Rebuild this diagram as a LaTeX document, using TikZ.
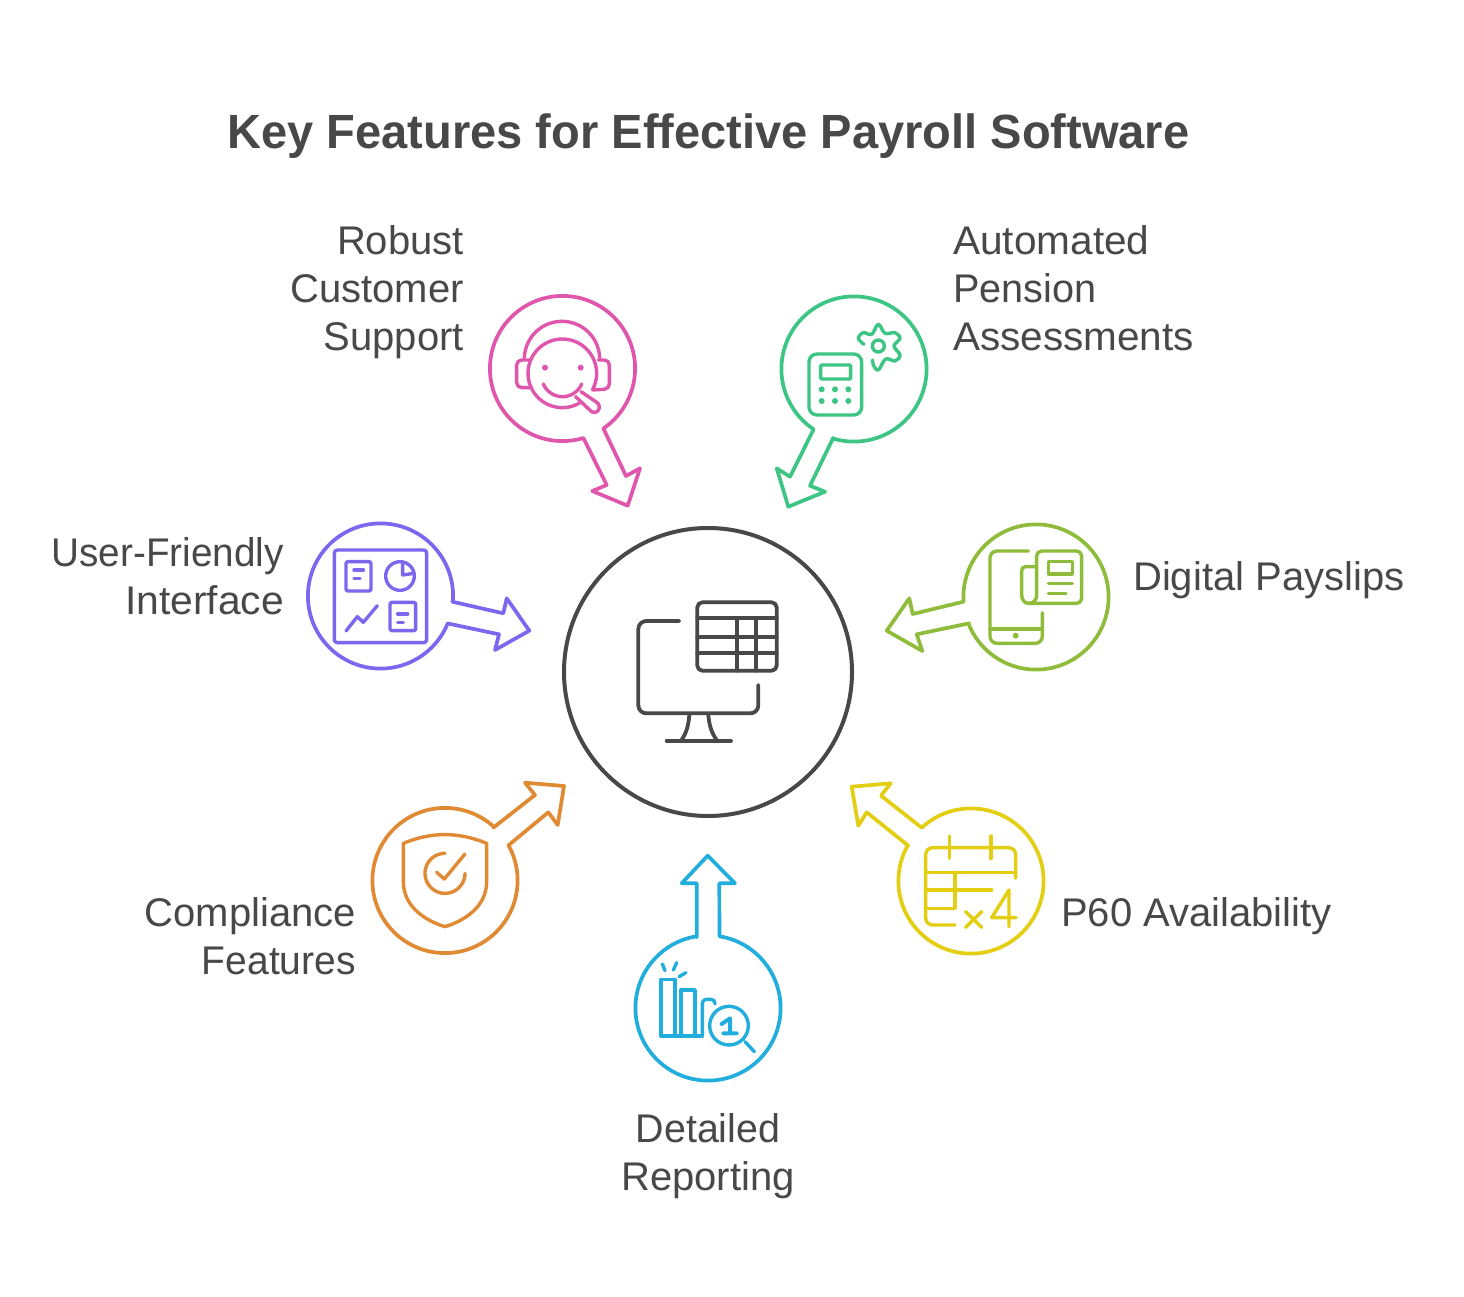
\documentclass[tikz,border=0pt]{standalone}
\usepackage{graphicx}
\usepackage{fontspec}
\setmainfont{Liberation Sans}
\definecolor{ink}{HTML}{484848}
\definecolor{cpink}{HTML}{E056AC}
\definecolor{cgreen}{HTML}{3CC583}
\definecolor{clime}{HTML}{8FBC3B}
\definecolor{cpurple}{HTML}{7B68EE}
\definecolor{corange}{HTML}{E08A33}
\definecolor{cyell}{HTML}{E3CE12}
\definecolor{cblue}{HTML}{22AEDD}
\tikzset{
  outline/.style={line width=3.7pt,line join=round,line cap=round},
  glyph/.style={line width=3.4pt,line join=round,line cap=round},
  labeltext/.style={font=\fontsize{40}{48}\selectfont,text=ink,inner sep=0pt},
  zoomed/.style={x=0.33333pt,y=-0.33333pt},
}
\newcommand{\harc}[5]{plot[domain=#4:#5,samples=48,variable=\t] ({#1+#3*cos(\t)},{#2+#3*sin(\t)})}
\newcommand{\dotat}[3]{\fill (#1,#2) circle[radius=#3];}
\newcommand{\sx}[2]{\scalebox{#1}[1]{#2}}
\newcommand{\bubble}[8]{%
  \pgfmathsetmacro\angA{atan2(#5-#3,#4-#2)}%
  \pgfmathsetmacro\angB{atan2(#7-#3,#6-#2)}%
  \pgfmathsetmacro\angC{\angB<\angA ? \angB+360 : \angB}%
  \draw[outline,#1] plot[domain=\angA:\angC,samples=120,variable=\t] ({#2+72.6*cos(\t)},{#3+72.6*sin(\t)}) -- (#6,#7) -- #8 -- cycle;}
\begin{document}
\begin{tikzpicture}[x=1pt,y=-1pt]
\useasboundingbox (0,0) rectangle (1464,1297);
\fill[white] (0,0) rectangle (1464,1297);

% title
\node[labeltext,font=\fontsize{48}{56}\bfseries\selectfont,anchor=center] (title) at (708.5,136) {\sx{0.98}{Key Features for Effective Payroll Software}};

% hub
\node[circle,draw=ink,line width=4pt,minimum size=288pt,inner sep=0pt] (hub) at (708,672) {};

% bubbles
\bubble{cpink}{562.5}{368.5}{583.3}{437.7}{603.3}{428.3}{(626,476) -- (640,468.3) -- (627.7,505.7) -- (592.3,491) -- (606.7,485)}
\bubble{cgreen}{854}{369}{814.3}{428.3}{833.3}{437.7}{(810,485.7) -- (825,491.7) -- (788.3,506.7) -- (776.7,468.3) -- (790,476.7)}
\bubble{clime}{1036}{597}{963.3}{601.7}{969.3}{623.3}{(916.7,634.3) -- (922.3,651) -- (886.7,630.7) -- (909.3,598.3) -- (912.7,614)}
\bubble{cpurple}{380.5}{596}{447.3}{623.3}{452.3}{601.7}{(503.3,613.3) -- (506.7,598.3) -- (529.3,630.7) -- (495,650) -- (499,634.3)}
\bubble{corange}{445}{880.5}{507.7}{845.7}{493.3}{827.7}{(535,795) -- (525,782.7) -- (564,786) -- (557.7,825) -- (548.3,812.3)}
\bubble{cyell}{971}{881}{922.3}{828.3}{908.3}{845.7}{(866.7,812.3) -- (858.3,825.7) -- (851.7,786.7) -- (890.7,783.3) -- (881,795.7)}
\bubble{cblue}{708}{1008}{719.3}{937.3}{696.7}{937.3}{(696.7,883.3) -- (681.7,883.3) -- (707.7,855.7) -- (735,883.3) -- (719.3,883.3)}

% hub icon
\begin{scope}[zoomed,shift={(620pt,-585pt)},draw=ink,fill=ink,glyph,line width=3.8pt]
\draw[rounded corners=8pt] (178,108) -- (55,108) -- (55,385) -- (415,385) -- (415,300);
\draw (208,390) .. controls (205,425) and (198,445) .. (185,465);
\draw (265,390) .. controls (268,425) and (276,445) .. (290,465);
\draw (140,467) -- (333,467);
\draw[rounded corners=5pt] (232,52) rectangle (470,257);
\draw (232,100) -- (470,100) (232,155) -- (470,155) (232,205) -- (470,205);
\draw (352,100) -- (352,257) (408,100) -- (408,257);
\end{scope}

% pink icon
\begin{scope}[zoomed,shift={(480pt,285pt-570pt)},draw=cpink,fill=cpink,glyph]
\draw \harc{247}{265}{103}{60}{388};
\draw \harc{246}{222}{113}{182}{358};
\draw[rounded corners=5pt] (150,225) -- (110,225) -- (110,308) -- (155,308);
\draw[rounded corners=5pt] (355,225) -- (388,225) -- (388,312) -- (338,315);
\dotat{195}{248}{9} \dotat{302}{248}{9}
\draw \harc{247.5}{272.5}{62.5}{23}{157};
\draw[rounded corners=6pt] (303,320) -- (365,362) -- (345,390) -- (287,335);
\end{scope}

% green icon
\begin{scope}[zoomed,shift={(770pt,-285pt)},draw=cgreen,fill=cgreen,glyph]
\draw[rounded corners=8pt] (117,207) rectangle (275,390);
\draw[rounded corners=1pt] (152,240) rectangle (242,282);
\dotat{155}{313}{9} \dotat{195}{313}{9} \dotat{235}{313}{9}
\dotat{155}{348}{9} \dotat{195}{348}{9} \dotat{235}{348}{9}
\draw (325,183) circle[radius=18];
\draw plot[smooth,tension=.6] coordinates {(282,178) (265,160) (280,143) (305,148) (325,118) (345,145) (375,143) (390,160) (372,183) (390,210) (375,228) (347,222) (325,255) (310,240) (308,225)};
\end{scope}

% lime icon
\begin{scope}[zoomed,shift={(880pt,-515pt)},draw=clime,fill=clime,glyph]
\draw[rounded corners=7pt] (445,108) -- (330,108) -- (330,385) -- (487,385) -- (487,293);
\draw (330,342) -- (487,342);
\dotat{407}{362}{9}
\draw[rounded corners=5pt] (470,240) -- (470,108) -- (605,108) -- (605,265) -- (445,265);
\draw (470,155) -- (437,155) .. controls (428,155) and (425,160) .. (425,168) -- (425,240) .. controls (425,258) and (437,265) .. (447,265) .. controls (460,265) and (470,255) .. (470,240);
\draw (505,140) rectangle (577,177);
\draw (505,205) -- (577,205) (505,235) -- (558,235);
\end{scope}

% purple icon
\begin{scope}[zoomed,shift={(300pt,-515pt)},draw=cpurple,fill=cpurple,glyph]
\draw[rounded corners=3pt] (103,105) rectangle (380,383);
\draw[rounded corners=2pt] (138,140) rectangle (213,228);
\draw (162,165) -- (190,165) (162,190) -- (180,190);
\draw[rounded corners=2pt] (270,262) rectangle (347,347);
\draw (293,297) -- (323,297) (293,322) -- (310,322);
\draw (300,183) circle[radius=43];
\draw (308,143) -- (308,180) -- (342,175);
\draw (138,348) -- (172,305) -- (190,322) -- (232,272);
\end{scope}

% orange icon
\begin{scope}[zoomed,shift={(365pt,-775pt)},draw=corange,fill=corange,glyph]
\draw (115,205) .. controls (200,170) and (280,170) .. (365,205) -- (365,320) .. controls (365,400) and (290,440) .. (240,455) .. controls (190,440) and (115,400) .. (115,320) -- cycle;
\draw \harc{240}{295}{60}{0}{270};
\draw (215,292) -- (238,312) -- (300,237);
\end{scope}

% yellow icon
\begin{scope}[zoomed,shift={(845pt,-775pt)},draw=cyell,fill=cyell,glyph]
\draw[rounded corners=7pt] (512,310) -- (512,218) -- (242,218) -- (242,450) -- (330,450);
\draw (313,183) -- (313,250) (438,183) -- (438,250);
\draw (242,292) -- (512,292);
\draw (330,292) -- (330,400) -- (242,400);
\draw (242,345) -- (440,345);
\draw (362,410) -- (410,457) (410,410) -- (362,457);
\draw (492,455) -- (492,345) -- (440,428) -- (513,428);
\end{scope}

% blue icon
\begin{scope}[zoomed,shift={(625pt,-850pt)},draw=cblue,fill=cblue,glyph]
\draw (108,558) -- (232,558);
\draw (108,558) -- (108,388) -- (150,388) -- (150,558);
\draw (168,558) -- (168,420) -- (210,420) -- (210,558);
\draw[rounded corners=4pt] (232,558) -- (232,448) -- (270,448) -- (270,462);
\draw (112,342) -- (120,362) (155,338) -- (145,360) (183,368) -- (162,380);
\draw (312,527) circle[radius=58];
\draw (360,575) -- (388,605);
\draw[line width=4pt] (290,522) -- (315,505) -- (315,550) (295,550) -- (335,550);
\end{scope}

% labels
\node[labeltext,align=right,anchor=north east] (l1) at (464,225) {Robust\\Customer\\Support};
\node[labeltext,align=left,anchor=north west] (l2) at (953,225) {\sx{1.015}{Automated}\\\sx{0.99}{Pension}\\\sx{1.012}{Assessments}};
\node[labeltext,align=left,anchor=west] (l3) at (1133,580) {Digital Payslips};
\node[labeltext,align=right,anchor=east] (l4) at (284,576) {\sx{0.967}{User-Friendly}\\\sx{1.02}{Interface}};
\node[labeltext,align=right,anchor=east] (l5) at (356,936) {Compliance\\\sx{0.975}{Features}};
\node[labeltext,align=left,anchor=west] (l6) at (1061,916) {P60 Availability};
\node[labeltext,align=center,anchor=center] (l7) at (708,1156) {\sx{0.985}{Detailed}\\Reporting};
\end{tikzpicture}
\end{document}
